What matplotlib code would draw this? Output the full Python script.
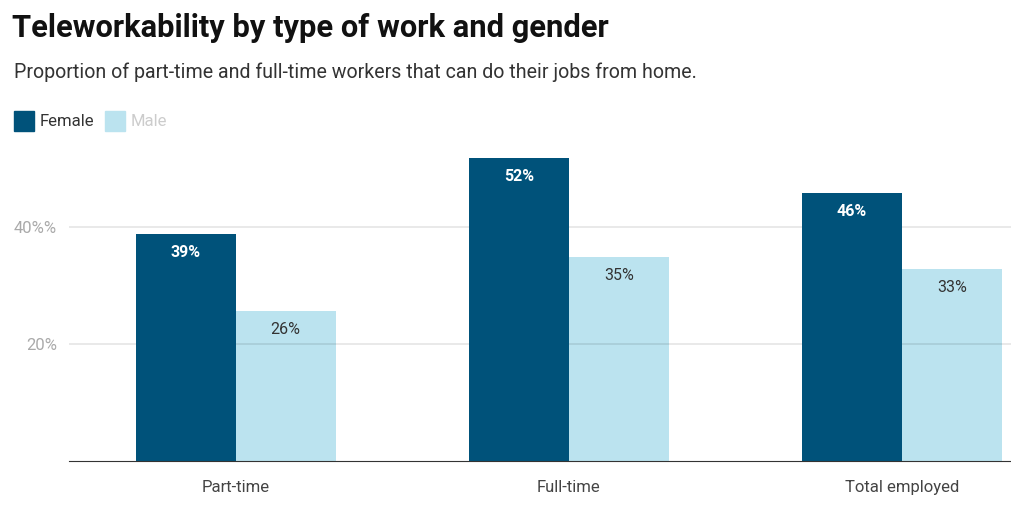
import numpy as np
import matplotlib.pyplot as plt
from matplotlib.patches import Rectangle

plt.rcParams['font.family'] = ['Roboto', 'DejaVu Sans']

categories = ['Part-time', 'Full-time', 'Total employed']
female = [38.8, 51.8, 45.8]
male = [25.6, 34.9, 32.8]
female_labels = ['39%', '52%', '46%']
male_labels = ['26%', '35%', '33%']
tick_values = [20, 40]
tick_labels = ['20%', '40%%']

female_color = '#00527a'
male_color = '#bbe3ef'

fig = plt.figure(figsize=(10.12, 5.18), dpi=100)
ax = fig.add_axes([69 / 1012, 1 - 461 / 518, 1 - 69 / 1012, (461 - 139.25) / 518])

x = np.arange(len(categories))
w = 0.3
b1 = ax.bar(x - w / 2, female, w, color=female_color, zorder=3)
b2 = ax.bar(x + w / 2, male, w, color=male_color, zorder=1)

for bar, lab in zip(b1, female_labels):
    ax.text(bar.get_x() + w / 2, bar.get_height() - 3.2, lab, ha='center', va='center',
            color='white', fontsize=11.5, fontweight='bold', zorder=4)
for bar, lab in zip(b2, male_labels):
    ax.text(bar.get_x() + w / 2, bar.get_height() - 3.2, lab, ha='center', va='center',
            color='#333333', fontsize=11.5, zorder=4)

ax.set_xlim(-0.5, 2.33)
ax.set_ylim(0, 55)
ax.set_yticks(tick_values)
ax.set_yticklabels(tick_labels)
ax.grid(axis='y', color='#000000', alpha=0.1, linewidth=1.2, zorder=2)
ax.set_axisbelow(False)
for s in ['top', 'right', 'left']:
    ax.spines[s].set_visible(False)
ax.spines['bottom'].set_color('#333333')
ax.spines['bottom'].set_zorder(5)
ax.tick_params(axis='y', length=0, labelsize=12, labelcolor='#aaaaaa', pad=8.5)
ax.tick_params(axis='x', length=0, labelsize=12, labelcolor='#444444', pad=14)
ax.set_xticks(x)
ax.set_xticklabels(categories)

fig.text(12 / 1012, 1 - 28 / 518, 'Teleworkability by type of work and gender',
         fontsize=22.2, fontweight='bold', color='#111111', va='center')
fig.text(14 / 1012, 1 - 72.5 / 518,
         'Proportion of part-time and full-time workers that can do their jobs from home.',
         fontsize=14.1, color='#333333', va='center')

# legend
fig.patches.append(Rectangle((14 / 1012, 1 - 131 / 518), 20 / 1012, 20 / 518,
                             transform=fig.transFigure, color=female_color))
fig.text(40 / 1012, 1 - 122 / 518, 'Female', fontsize=12, color='#333333', va='center')
fig.patches.append(Rectangle((105 / 1012, 1 - 131 / 518), 20 / 1012, 20 / 518,
                             transform=fig.transFigure, color=male_color))
fig.text(131 / 1012, 1 - 122 / 518, 'Male', fontsize=12, color='#cccccc', va='center')

fig.savefig('out.png', dpi=100, facecolor='white')
